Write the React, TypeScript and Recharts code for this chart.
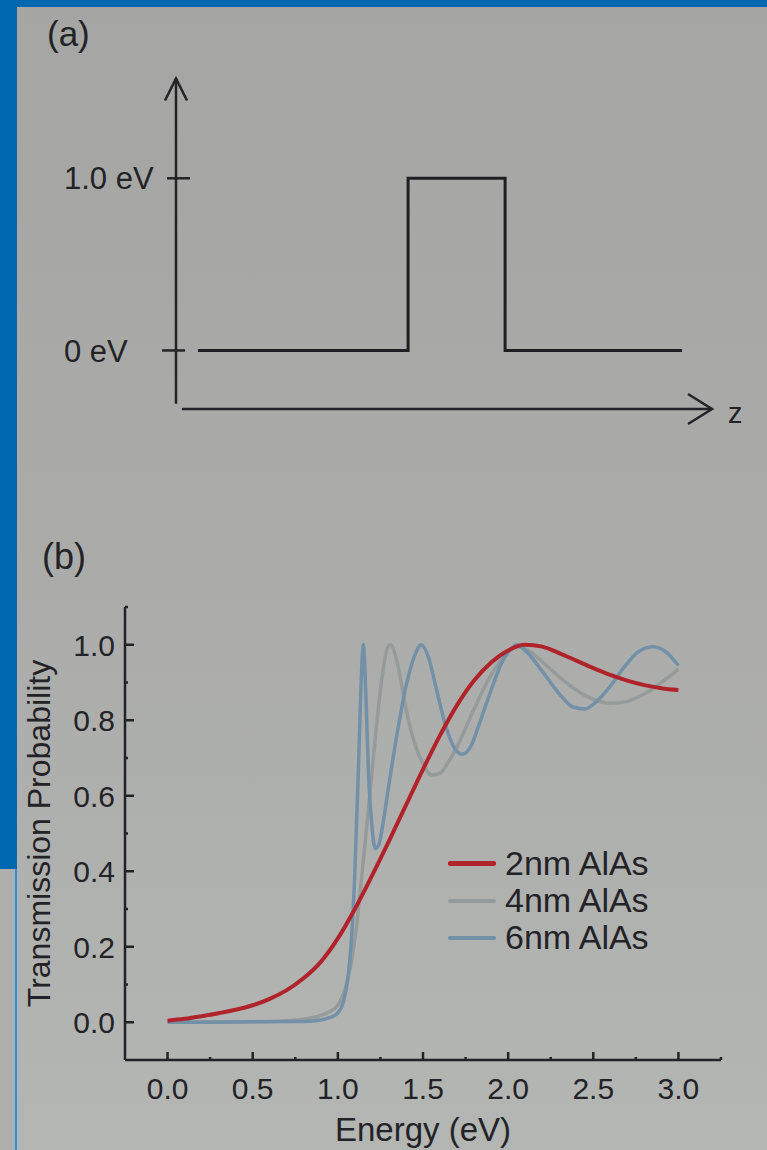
import React from 'react';
import { LineChart, Line, XAxis, YAxis, ReferenceLine, ReferenceDot, Legend, Label } from 'recharts';

const FONT = '"Liberation Sans", Arial, Helvetica, sans-serif';
const INK = '#232327';

// ---------- Panel (a): rectangular potential barrier ----------
const potentialZ = [0.41, 4.33, 4.33, 6.14, 6.14, 9.44];
const potentialV = [0, 0, 1, 1, 0, 0];
const levelTicks = [0, 1];
const levelLabels = ['0 eV', '1.0 eV'];
const zAxisLabel = 'z';

// ---------- Panel (b): transmission probability ----------
const seriesNames = ['2nm AlAs', '4nm AlAs', '6nm AlAs'];
const seriesColors = ['#b0232b', '#959a9a', '#7290a8'];

const energy2 = [0.0, 0.1, 0.2, 0.3, 0.4, 0.5, 0.6, 0.7, 0.8, 0.9, 1.0, 1.1, 1.2, 1.3, 1.4, 1.5, 1.6, 1.7, 1.8, 1.9, 2.0, 2.1, 2.2, 2.3, 2.4, 2.5, 2.6, 2.7, 2.8, 2.9, 3.0];
const trans2 = [0.004, 0.009, 0.016, 0.024, 0.033, 0.045, 0.062, 0.085, 0.117, 0.16, 0.222, 0.3, 0.388, 0.48, 0.575, 0.67, 0.76, 0.84, 0.905, 0.953, 0.985, 1.0, 0.995, 0.978, 0.958, 0.938, 0.92, 0.905, 0.893, 0.885, 0.88];

const energy4 = [0.0, 0.5, 0.7, 0.8, 0.9, 0.95, 1.0, 1.05, 1.1, 1.15, 1.2, 1.25, 1.29, 1.31, 1.35, 1.4, 1.45, 1.5, 1.55, 1.6, 1.65, 1.7, 1.8, 1.9, 2.0, 2.05, 2.1, 2.2, 2.3, 2.4, 2.5, 2.6, 2.7, 2.8, 2.9, 3.0];
const trans4 = [0.0, 0.001, 0.004, 0.008, 0.018, 0.028, 0.045, 0.1, 0.22, 0.43, 0.66, 0.88, 0.99, 1.0, 0.95, 0.83, 0.74, 0.685, 0.655, 0.66, 0.69, 0.73, 0.83, 0.92, 0.98, 0.995, 0.99, 0.955, 0.915, 0.88, 0.855, 0.845, 0.85, 0.87, 0.9, 0.935];

const energy6 = [0.0, 0.8, 0.9, 0.95, 1.0, 1.03, 1.06, 1.08, 1.1, 1.12, 1.135, 1.15, 1.165, 1.18, 1.2, 1.22, 1.24, 1.27, 1.3, 1.35, 1.4, 1.45, 1.49, 1.53, 1.58, 1.63, 1.68, 1.73, 1.78, 1.83, 1.9, 1.96, 2.02, 2.05, 2.1, 2.2, 2.3, 2.38, 2.45, 2.52, 2.6, 2.68, 2.76, 2.85, 2.93, 3.0];
const trans6 = [0.0, 0.002, 0.006, 0.012, 0.025, 0.05, 0.12, 0.22, 0.4, 0.66, 0.88, 1.0, 0.86, 0.66, 0.52, 0.46, 0.47, 0.54, 0.63, 0.77, 0.89, 0.97, 1.0, 0.97, 0.88, 0.79, 0.73, 0.71, 0.73, 0.79, 0.88, 0.95, 0.99, 1.0, 0.985, 0.93, 0.87, 0.835, 0.83, 0.85, 0.89, 0.94, 0.98, 0.995, 0.98, 0.945];

const energyTicks = [0, 0.25, 0.5, 0.75, 1.0, 1.25, 1.5, 1.75, 2.0, 2.25, 2.5, 2.75, 3.0, 3.25];
const probTicks = [0, 0.1, 0.2, 0.3, 0.4, 0.5, 0.6, 0.7, 0.8, 0.9, 1.0, 1.1];
const xTitle = 'Energy (eV)';
const yTitle = 'Transmission Probability';

const potentialData = potentialZ.map((z, i) => ({ z, v: potentialV[i] }));
const data2 = energy2.map((e, i) => ({ e, t: trans2[i] }));
const data4 = energy4.map((e, i) => ({ e, t: trans4[i] }));
const data6 = energy6.map((e, i) => ({ e, t: trans6[i] }));

const LevelTick = (props: any) => {
  const { x, y, payload } = props;
  const idx = levelTicks.indexOf(payload.value);
  const major = payload.value === 1;
  return (
    <g>
      <line x1={x - (major ? 9 : 14)} x2={x + (major ? 14 : 9)} y1={y} y2={y} stroke={INK} strokeWidth={2.5} />
      <text x={x - 112} y={y} dy="0.36em" textAnchor="start" fontSize={31} fontFamily={FONT} fill={INK}>
        {levelLabels[idx]}
      </text>
    </g>
  );
};

const UpArrow = (props: any) => {
  const { cx, cy } = props;
  return <path d={`M${cx - 11},${cy + 22} L${cx},${cy} L${cx + 11},${cy + 22}`} fill="none" stroke={INK} strokeWidth={2.5} />;
};

const RightArrow = (props: any) => {
  const { cx, cy } = props;
  return (
    <g>
      <path d={`M${cx - 24},${cy - 15} L${cx},${cy} L${cx - 24},${cy + 15}`} fill="none" stroke={INK} strokeWidth={2.5} />
      <text x={cx + 16} y={cy + 14} fontSize={29} fontFamily={FONT} fill={INK}>{zAxisLabel}</text>
    </g>
  );
};

const ETick = (props: any) => {
  const { x, y, payload } = props;
  const v = payload.value;
  const major = Math.round(v * 4) % 2 === 0 && v <= 3.0001;
  return (
    <g>
      <line x1={x} x2={x} y1={y} y2={y - (major ? 8 : 3)} stroke={INK} strokeWidth={2.5} />
      {major && (
        <text x={x} y={y + 39} textAnchor="middle" fontSize={30} fontFamily={FONT} fill={INK}>
          {v.toFixed(1)}
        </text>
      )}
    </g>
  );
};

const PTick = (props: any) => {
  const { x, y, payload } = props;
  const v = payload.value;
  const major = Math.round(v * 10) % 2 === 0 && v <= 1.0001;
  return (
    <g>
      <line x1={x} x2={x + (major ? 9 : 3)} y1={y} y2={y} stroke={INK} strokeWidth={2.5} />
      {major && (
        <text x={x - 10} y={y} dy="0.36em" textAnchor="end" fontSize={30} fontFamily={FONT} fill={INK}>
          {v.toFixed(1)}
        </text>
      )}
    </g>
  );
};

const EnergyTitle = (props: any) => {
  const vb = props.viewBox || { x: 0, y: 0, width: 0, height: 0 };
  return (
    <text x={vb.x + vb.width / 2} y={vb.y + 81} textAnchor="middle" fontSize={33} fontFamily={FONT} fill={INK}>
      {xTitle}
    </text>
  );
};

const ProbTitle = (props: any) => {
  const vb = props.viewBox || { x: 0, y: 0, width: 0, height: 0 };
  const cx = vb.x + 38;
  const cy = vb.y + vb.height / 2;
  return (
    <text x={cx} y={cy} dy="0.36em" textAnchor="middle" fontSize={32} fontFamily={FONT} fill={INK} transform={`rotate(-90 ${cx} ${cy})`}>
      {yTitle}
    </text>
  );
};

const LegendBox = () => (
  <div style={{ fontFamily: FONT }}>
    {seriesNames.map((name, i) => (
      <div key={name} style={{ display: 'flex', alignItems: 'center', height: 37 }}>
        <span style={{ display: 'inline-block', width: 48, height: i === 0 ? 5 : 4, background: seriesColors[i], marginRight: 9, borderRadius: 2 }} />
        <span style={{ fontSize: 34, lineHeight: '37px', color: INK }}>{name}</span>
      </div>
    ))}
  </div>
);

export default function App() {
  return (
    <div
      style={{
        position: 'absolute',
        left: 0,
        top: 0,
        width: 767,
        height: 1150,
        overflow: 'hidden',
        background: 'linear-gradient(180deg, #a5a6a4 0%, #aaaba9 45%, #b4b6b3 100%)',
        fontFamily: FONT,
      }}
    >
      <div style={{ position: 'absolute', left: 0, top: 0, width: 767, height: 7, background: '#0067b1' }} />
      <div style={{ position: 'absolute', left: 0, top: 0, width: 17, height: 869, background: '#0067b1' }} />
      <div style={{ position: 'absolute', left: 0, top: 869, width: 15, height: 281, background: '#afb0ad' }} />
      <div style={{ position: 'absolute', left: 15, top: 869, width: 2, height: 281, background: '#2591ea' }} />

      <div style={{ position: 'absolute', left: 47, top: 14, fontSize: 35, color: INK }}>(a)</div>
      <div style={{ position: 'absolute', left: 42, top: 536, fontSize: 36, color: INK }}>(b)</div>

      <div style={{ position: 'absolute', left: 0, top: 0 }}>
        <LineChart width={767} height={460} data={potentialData} margin={{ top: 75, right: 55, bottom: 51, left: 0 }}>
          <XAxis type="number" dataKey="z" domain={[0, 10]} hide />
          <YAxis
            type="number"
            domain={[-0.34, 1.6]}
            ticks={levelTicks}
            interval={0}
            width={176}
            axisLine={false}
            tickLine={false}
            tickSize={0}
            tickMargin={0}
            tick={(p: any) => <LevelTick {...p} />}
          />
          <ReferenceLine segment={[{ x: 0, y: -0.31 }, { x: 0, y: 1.58 }]} stroke={INK} strokeWidth={2.5} ifOverflow="visible" />
          <ReferenceLine segment={[{ x: 0.11, y: -0.34 }, { x: 10, y: -0.34 }]} stroke={INK} strokeWidth={2.5} ifOverflow="visible" />
          <ReferenceDot x={0} y={1.58} r={1} shape={(p: any) => <UpArrow {...p} />} ifOverflow="visible" />
          <ReferenceDot x={10} y={-0.34} r={1} shape={(p: any) => <RightArrow {...p} />} ifOverflow="visible" />
          <Line dataKey="v" type="linear" stroke="#1f1f23" strokeWidth={3} dot={false} isAnimationActive={false} />
        </LineChart>
      </div>

      <div style={{ position: 'absolute', left: 0, top: 560 }}>
        <LineChart width={767} height={590} margin={{ top: 47, right: 46, bottom: 30, left: 0 }}>
          <XAxis
            type="number"
            dataKey="e"
            domain={[-0.25, 3.25]}
            ticks={energyTicks}
            interval={0}
            height={60}
            tickSize={0}
            tickMargin={0}
            tickLine={false}
            axisLine={{ stroke: INK, strokeWidth: 2.5 }}
            tick={(p: any) => <ETick {...p} />}
            allowDataOverflow
          >
            <Label content={(p: any) => <EnergyTitle {...p} />} />
          </XAxis>
          <YAxis
            type="number"
            domain={[-0.1, 1.1]}
            ticks={probTicks}
            interval={0}
            width={125}
            tickSize={0}
            tickMargin={0}
            tickLine={false}
            axisLine={{ stroke: INK, strokeWidth: 2.5 }}
            tick={(p: any) => <PTick {...p} />}
            allowDataOverflow
          >
            <Label content={(p: any) => <ProbTitle {...p} />} />
          </YAxis>
          <Line data={data4} dataKey="t" name={seriesNames[1]} type="monotone" stroke={seriesColors[1]} strokeWidth={3.5} dot={false} isAnimationActive={false} />
          <Line data={data6} dataKey="t" name={seriesNames[2]} type="monotone" stroke={seriesColors[2]} strokeWidth={3.5} dot={false} isAnimationActive={false} />
          <Line data={data2} dataKey="t" name={seriesNames[0]} type="monotone" stroke={seriesColors[0]} strokeWidth={4} dot={false} isAnimationActive={false} />
          <Legend
            layout="vertical"
            align="center"
            verticalAlign="middle"
            content={() => <LegendBox />}
            wrapperStyle={{ left: 448, top: 285, width: 280, height: 120 }}
          />
        </LineChart>
      </div>
    </div>
  );
}
